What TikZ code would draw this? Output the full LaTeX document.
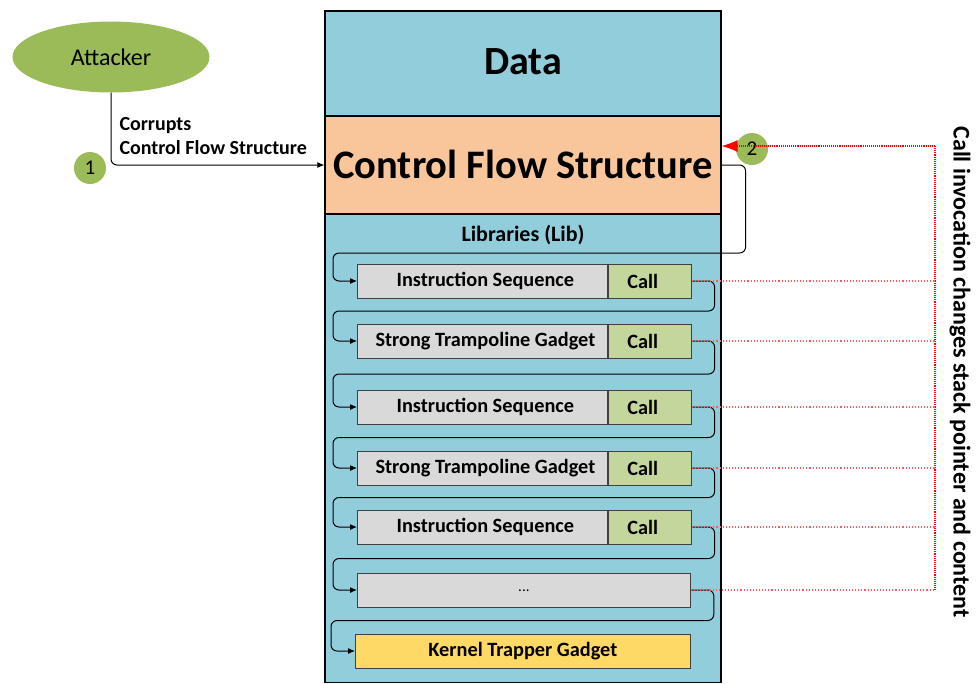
\documentclass[tikz,border=0pt]{standalone}
\usepackage{fontspec}
\setmainfont{Carlito}
\usetikzlibrary{arrows.meta,shapes.geometric}
\definecolor{libblue}{HTML}{92CDDC}
\definecolor{cfsorange}{HTML}{F9C59B}
\definecolor{rowgray}{HTML}{D9D9D9}
\definecolor{callgreen}{HTML}{C3D69B}
\definecolor{kernelyellow}{HTML}{FFD966}
\definecolor{attgreen}{HTML}{9BBB59}
\definecolor{edgegray}{HTML}{404040}
\tikzset{
  section/.style={draw=black, line width=1.2pt, inner sep=0pt, minimum width=396pt},
  rowbox/.style={draw=edgegray, line width=0.8pt, fill=rowgray, inner sep=0pt, minimum height=34pt, font=\fontsize{20.3}{22}\selectfont\bfseries},
  callbox/.style={draw=edgegray, line width=0.8pt, fill=callgreen, inner sep=0pt, minimum height=34pt, minimum width=83pt, font=\fontsize{20.3}{22}\selectfont\bfseries},
  flow/.style={draw=black, line width=1pt, rounded corners=6pt, -{Latex[length=7pt,width=6pt]}},
  numcircle/.style={circle, fill=attgreen, minimum size=32pt, inner sep=0pt, font=\fontsize{21}{24}\selectfont},
  reddot/.style={draw=red!65, line width=1.1pt, dotted},
  redmain/.style={draw=red, line width=1.1pt, densely dotted},
}
\begin{document}
\begin{tikzpicture}[x=1pt,y=-1pt]
\useasboundingbox (0,0) rectangle (979,683);
% main column
\node[section, fill=libblue, minimum height=105pt, font=\fontsize{40}{44}\selectfont\bfseries] (data) at (523,63.5) {\raisebox{4pt}{Data}};
\node[section, fill=libblue, minimum height=468pt, anchor=north] (lib) at (523,214) {};
\node[section, fill=cfsorange, minimum height=98pt, font=\fontsize{40.5}{44}\selectfont\bfseries] (cfs) at (523,165) {\raisebox{2pt}{Control Flow Structure}};
\node[font=\fontsize{22}{24}\selectfont\bfseries] (libtitle) at (523,235) {Libraries (Lib)};
% rows
\node[rowbox, minimum width=250pt, anchor=west] (r1) at (357,281) {\hspace*{6pt}Instruction Sequence};
\node[callbox, anchor=west] (c1) at (r1.east) {Call\hspace*{14pt}};
\node[rowbox, minimum width=250pt, anchor=west] (r2) at (357,341) {\hspace*{6pt}Strong Trampoline Gadget};
\node[callbox, anchor=west] (c2) at (r2.east) {Call\hspace*{14pt}};
\node[rowbox, minimum width=250pt, anchor=west] (r3) at (357,407) {\hspace*{6pt}Instruction Sequence};
\node[callbox, anchor=west] (c3) at (r3.east) {Call\hspace*{14pt}};
\node[rowbox, minimum width=250pt, anchor=west] (r4) at (357,468) {\hspace*{6pt}Strong Trampoline Gadget};
\node[callbox, anchor=west] (c4) at (r4.east) {Call\hspace*{14pt}};
\node[rowbox, minimum width=250pt, anchor=west] (r5) at (357,527) {\hspace*{6pt}Instruction Sequence};
\node[callbox, anchor=west] (c5) at (r5.east) {Call\hspace*{14pt}};
\node[rowbox, minimum width=333pt, anchor=west, font=\fontsize{15}{16}\selectfont] (r6) at (357,590) {\raisebox{-3pt}{...}};
\node[rowbox, fill=kernelyellow, minimum width=335pt, anchor=west] (k) at (355,651) {Kernel Trapper Gadget};
% attacker
\node[ellipse, fill=attgreen, minimum width=197pt, minimum height=71pt, inner sep=0pt, font=\fontsize{24}{26}\selectfont] (att) at (111,57) {Attacker};
\draw[flow] (att.south) |- (cfs.west);
\node[anchor=west, align=left, font=\fontsize{20}{24}\selectfont\bfseries] (corr) at (116,136) {Corrupts\\Control Flow Structure};
\node[numcircle] (n1) at (90,168) {1};
% flow connectors
\draw[flow] (cfs.east) -- ++(24,0) |- (333,253) |- (r1.west);
\draw[flow] (c1.east) -- ++(23,0) |- (333,311) |- (r2.west);
\draw[flow] (c2.east) -- ++(23,0) |- (333,374) |- (r3.west);
\draw[flow] (c3.east) -- ++(23,0) |- (333,437.5) |- (r4.west);
\draw[flow] (c4.east) -- ++(23,0) |- (333,497.5) |- (r5.west);
\draw[flow] (c5.east) -- ++(23,0) |- (333,558.5) |- (r6.west);
\draw[flow] (r6.east) -- ++(23,0) |- (331,620.5) |- (k.west);
% red call invocation lines
\coordinate (rtop) at (935,146);
\coordinate (rbot) at (935,590);
\node[numcircle] (n2) at (752,149) {2};
\draw[redmain] (rtop) -- (rbot);
\draw[redmain, -{Latex[length=16pt,width=12pt]}, red] (rtop) -- (rtop -| cfs.east);
\foreach \c in {c1,c2,c3,c4,c5,r6}{
  \draw[reddot] (\c.east) -- (\c.east -| rtop);
}
\node[rotate=-90, font=\fontsize{24}{26}\selectfont\bfseries] (side) at (960,372) {Call invocation changes stack pointer and content};
\end{tikzpicture}
\end{document}
